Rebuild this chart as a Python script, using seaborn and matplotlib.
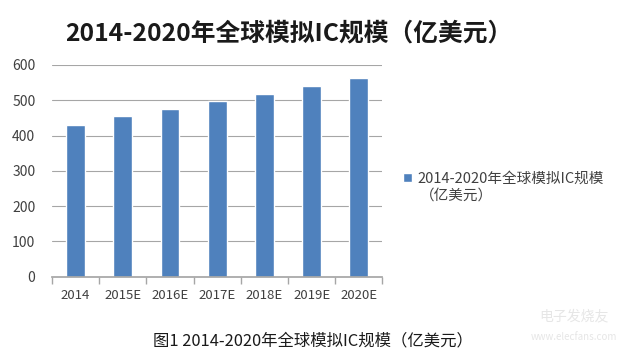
import matplotlib
matplotlib.use('Agg')
import matplotlib.pyplot as plt
import seaborn as sns
import pandas as pd

# 数据
years = ['2014', '2015E', '2016E', '2017E', '2018E', '2019E', '2020E']
market = [431, 455, 476, 497, 519, 541, 564]
series_name = '2014-2020年全球模拟IC规模'
series_unit = '（亿美元）'
title_text = '2014-2020年全球模拟IC规模（亿美元）'
caption_text = '图1 2014-2020年全球模拟IC规模（亿美元）'

df = pd.DataFrame({'Year': years, 'Value': market})

sns.set_theme(style='white')
plt.rcParams['font.family'] = ['Noto Sans CJK SC', 'DejaVu Sans']

fig = plt.figure(figsize=(6.27, 3.57), dpi=100)
ax = fig.add_axes([0.083, 0.225, 0.527, 0.593])

bar_color = '#4f81bd'
sns.barplot(data=df, x='Year', y='Value', color=bar_color, width=0.4,
            ax=ax, label=series_name, saturation=1)

ax.set_ylim(0, 600)
ax.set_yticks(range(0, 601, 100))
ax.set_xlim(-0.5, len(years) - 0.5)
ax.yaxis.grid(True, color='#a6a6a6', linewidth=0.8)
ax.set_axisbelow(True)
ax.set_xlabel('')
ax.set_ylabel('')
for s in ['top', 'right', 'left']:
    ax.spines[s].set_visible(False)
ax.spines['bottom'].set_color('#a6a6a6')

# 类别之间的刻度线
ax.set_xticks([i - 0.5 for i in range(len(years) + 1)], minor=True)
ax.tick_params(axis='x', which='minor', length=5, color='#a6a6a6', bottom=True)
ax.tick_params(axis='x', which='major', length=0, pad=9, labelsize=9.5, labelcolor='#404040')
ax.tick_params(axis='y', length=0, pad=12, labelsize=10, labelcolor='#404040')

# 图例（第二行单独写）
ax.legend(loc='center left', bbox_to_anchor=(0.643, 0.50), bbox_transform=fig.transFigure,
          frameon=False, fontsize=10.5, handlelength=0.6, handleheight=0.6,
          handletextpad=0.4, labelcolor='#404040', borderpad=0, borderaxespad=0)
fig.text(0.670, 0.452, series_unit, ha='left', va='center', fontsize=10.5,
         color='#404040')

fig.text(0.461, 0.905, title_text, ha='center', va='center', fontsize=17.8,
         fontweight='bold', color='#1a1a1a')
fig.text(0.499, 0.045, caption_text, ha='center', va='center', fontsize=11.8,
         color='#1a1a1a')

# 水印
fig.text(0.915, 0.115, '电子发烧友', ha='center', va='center', fontsize=10,
         color='#e6e6e6', style='italic')
fig.text(0.915, 0.055, 'www.elecfans.com', ha='center', va='center', fontsize=7,
         color='#e6e6e6')

fig.savefig('out.png', dpi=100)
